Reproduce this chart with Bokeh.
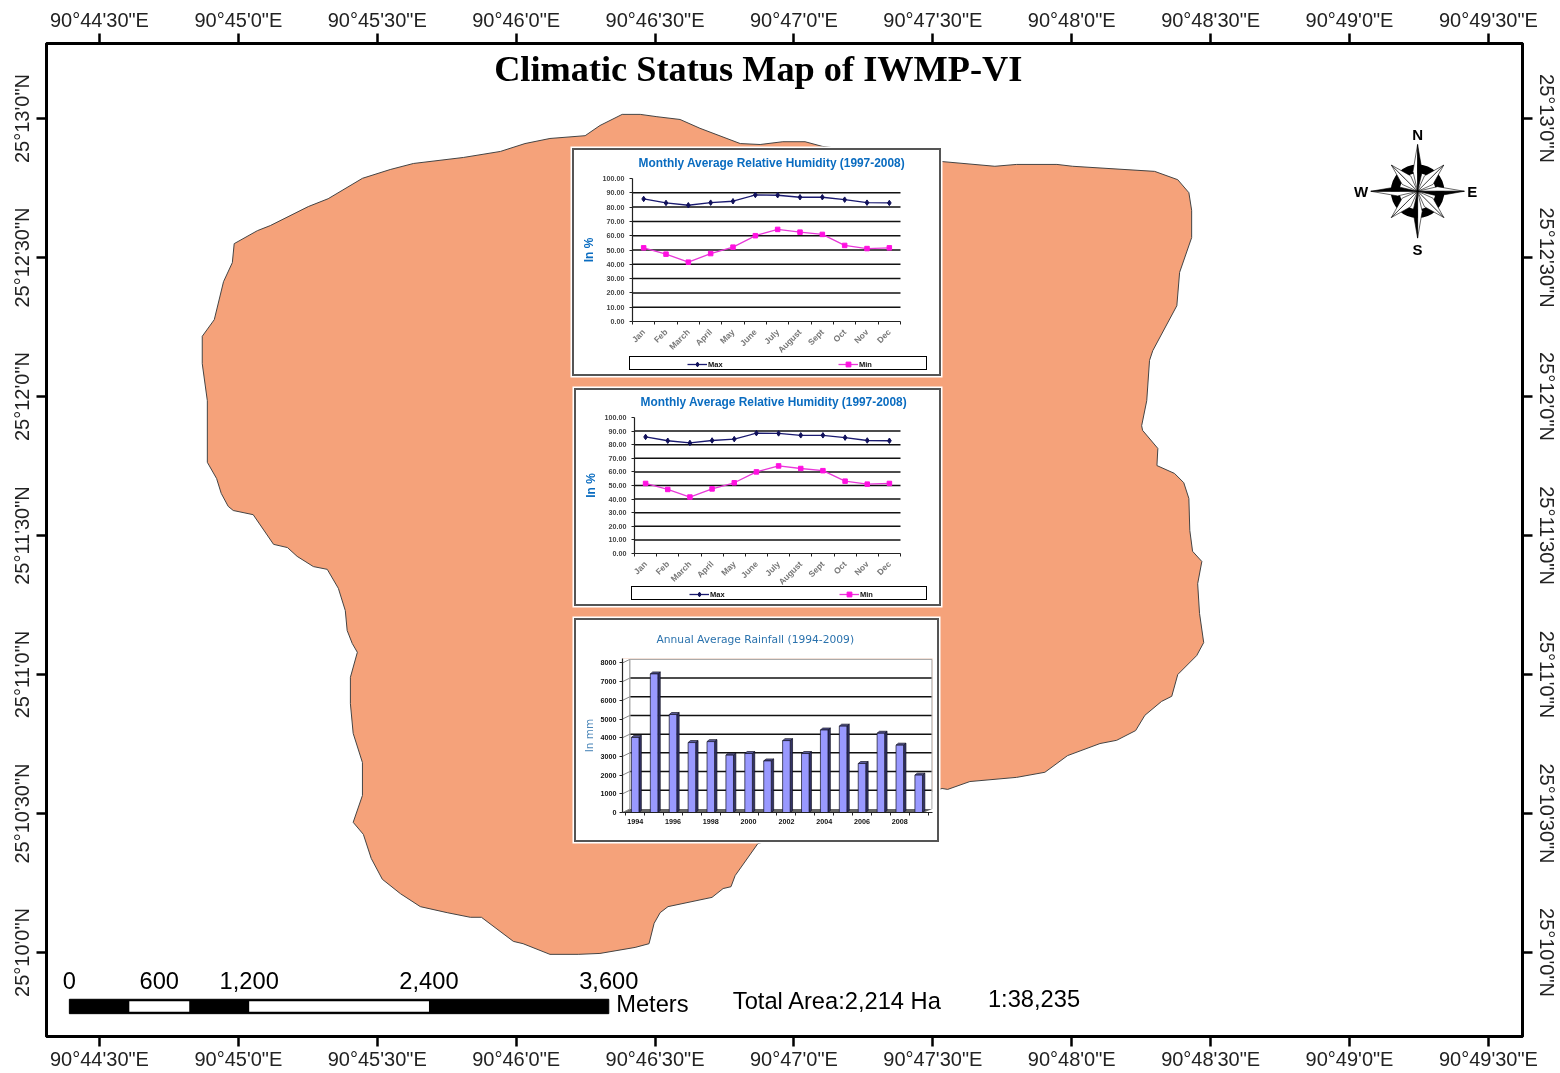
from math import pi, cos, sin
from bokeh.plotting import figure
from bokeh.models import (Range1d, LinearAxis, FixedTicker, Legend, LegendItem, Div, Label,
                          NumeralTickFormatter, Column, Title)
from bokeh.core.properties import value
from bokeh.embed import file_html
from bokeh.resources import INLINE

# ---- map data: arc seconds east of 90 deg 44' 0" and north of 25 deg 10' 0"
boundary_lon = [142.9,138.1,134.9,127.3,121.9,116.6,108.6,97.8,92.8,86.8,79.4,75.1,66.9,64.1,59.1,58.7,56.8,54.8,52.2,52.2,
                53.3,53.3,55.3,56.3,57.8,58.9,63.2,67.6,70.6,72.7,76.2,79.2,81.6,83.1,83.5,84.6,85.7,84.2,84.2,84.8,
                86.8,86.8,84.8,87.0,88.7,91.1,95.0,99.3,105.1,110.1,112.5,119.4,121.5,127.3,133.4,138.1,145.7,148.7,149.8,151.1,
                152.8,162.3,164.7,166.4,167.3,172.2,212.0,213.2,218.0,228.1,234.2,239.1,246.1,249.7,253.8,255.8,259.4,261.6,262.9,267.0,
                268.5,267.6,267.2,268.1,266.1,265.5,265.3,264.2,262.2,258.4,258.6,255.3,255.1,256.2,256.8,257.5,262.7,263.3,265.9,265.9,
                265.3,262.9,257.9,240.2,236.8,228.1,223.4,212.2,186.1,182.4,177.6,172.7,168.4,159.7,155.4,150.4,146.8]
boundary_lat = [180.9,178.5,176.3,175.7,174.6,172.9,171.6,170.3,169.0,167.1,162.7,161.0,156.9,155.8,153.0,148.9,144.8,136.6,133.0,127.1,
                119.1,105.8,102.3,99.1,96.3,95.4,94.5,88.1,87.4,85.5,83.3,82.7,78.6,73.8,69.5,66.7,64.8,59.4,53.7,47.3,
                41.0,33.9,28.1,25.5,20.3,15.8,12.7,9.9,8.6,7.6,7.6,2.4,1.9,-0.4,-0.4,-0.2,1.1,1.9,6.3,8.6,
                9.9,11.9,13.8,14.2,16.6,23.5,35.4,35.2,36.9,37.8,38.9,42.5,45.1,45.8,47.9,51.2,54.2,55.3,60.0,64.1,
                66.9,73.2,79.6,84.4,86.6,91.1,98.0,101.4,103.4,105.1,108.8,112.7,113.7,119.1,127.8,129.9,139.6,146.8,154.3,160.2,
                164.0,166.8,168.6,169.7,170.1,170.1,169.7,170.7,174.0,175.0,175.0,174.4,174.6,177.9,179.8,180.4,180.9]

lon_ticks = [30, 60, 90, 120, 150, 180, 210, 240, 270, 300, 330]
lon_labels = ["90°44'30\"E", "90°45'0\"E", "90°45'30\"E", "90°46'0\"E", "90°46'30\"E", "90°47'0\"E",
              "90°47'30\"E", "90°48'0\"E", "90°48'30\"E", "90°49'0\"E", "90°49'30\"E"]
lat_ticks = [0, 30, 60, 90, 120, 150, 180]
lat_labels = ["25°10'0\"N", "25°10'30\"N", "25°11'0\"N", "25°11'30\"N", "25°12'0\"N", "25°12'30\"N", "25°13'0\"N"]

scale_breaks_m = [0, 400, 800, 1200, 2400, 3600]
scale_label_m = [0, 600, 1200, 2400, 3600]
scale_label_txt = ["0", "600", "1,200", "2,400", "3,600"]

# ---- inset data
months = ["Jan", "Feb", "March", "April", "May", "June", "July", "August", "Sept", "Oct", "Nov", "Dec"]
rh_max = [85.7, 82.9, 81.3, 83.1, 84.1, 88.5, 88.3, 86.9, 86.9, 85.2, 83.1, 82.9]
rh_min = [51.5, 47.1, 41.5, 47.5, 52.0, 60.0, 64.4, 62.5, 60.9, 53.2, 51.0, 51.5]
years = list(range(1994, 2010))
rainfall = [4017, 7414, 5241, 3741, 3793, 3069, 3155, 2759, 3845, 3155, 4414, 4620, 2620, 4241, 3603, 2000]

SANS = "Liberation Sans"
BLUE = "#0a6cc0"
MAP_FILL = "#F5A27A"

# ---- main map
p = figure(width=1552, height=1073, x_range=Range1d(18.56, 337.36), y_range=Range1d(-18.13, 196.2),
           output_backend="svg", toolbar_location=None, x_axis_location=None, y_axis_location=None,
           frame_align=False,
           min_border_left=38, min_border_right=37, min_border_top=35, min_border_bottom=42,
           background_fill_color="white", border_fill_color="white",
           styles={"position": "fixed", "left": "8px", "top": "5px"})
p.grid.visible = False
p.outline_line_color = "black"
p.outline_line_width = 3

for side in ("above", "below", "left", "right"):
    horizontal = side in ("above", "below")
    ax = LinearAxis(ticker=FixedTicker(ticks=lon_ticks if horizontal else lat_ticks),
                    major_label_overrides=dict(zip(lon_ticks, lon_labels)) if horizontal else dict(zip(lat_ticks, lat_labels)))
    ax.major_label_text_font = SANS
    ax.major_label_text_font_size = "20px"
    ax.major_label_text_color = "#222222"
    ax.major_tick_out = 10
    ax.major_tick_in = 0
    ax.major_tick_line_width = 2.5
    ax.major_tick_line_color = "black"
    ax.minor_tick_out = 0
    ax.minor_tick_in = 0
    ax.axis_line_width = 3
    ax.major_label_standoff = 1 if side == "below" else 3
    if not horizontal:
        ax.major_label_orientation = "vertical"
    p.add_layout(ax, side)

p.patch(boundary_lon, boundary_lat, fill_color=MAP_FILL, line_color="#444444", line_width=1)

p.text([172.3], [190.8], text=["Climatic Status Map of IWMP-VI"], text_font=value("Liberation Serif"),
       text_font_style="bold", text_font_size="36.3px", text_align="center", text_baseline="middle", text_color="black")

# scale bar
M_PER_SEC = 30.9
bar_lon0 = 23.5
lon_of = lambda m: bar_lon0 + m / M_PER_SEC
p.quad(left=[lon_of(0)], right=[lon_of(scale_breaks_m[-1])], top=[-10.1], bottom=[-13.2], fill_color="black", line_color="black")
p.quad(left=[lon_of(scale_breaks_m[1]), lon_of(scale_breaks_m[3])], right=[lon_of(scale_breaks_m[2]), lon_of(scale_breaks_m[4])],
       top=[-10.5, -10.5], bottom=[-12.8, -12.8], fill_color="white", line_color=None)
p.text([lon_of(m) for m in scale_label_m], [-6.0] * 5, text=scale_label_txt, text_font=value(SANS), text_font_size="23.7px",
       text_align="center", text_baseline="middle", text_color="black")
p.text([141.6, 166.8, 221.9], [-11.2, -10.4, -10.1], text=["Meters", "Total Area:2,214 Ha", "1:38,235"], text_font=value(SANS),
       text_font_size="23.7px", text_align="left", text_baseline="middle", text_color="black")

# north arrow
rose_x, rose_y = 314.7, 164.3
p.annulus([rose_x], [rose_y], inner_radius=3.9, outer_radius=5.8, fill_color="black", line_color=None)
def kite(angle, tip, side_r, half_w, sign):
    ca, sa = cos(angle), sin(angle)
    sx = side_r * ca - sign * half_w * sa
    sy = side_r * sa + sign * half_w * ca
    return [rose_x, rose_x + sx, rose_x + tip * ca], [rose_y, rose_y + sy, rose_y + tip * sa]
shapes = []
for k in [1, 3, 5, 7, 0, 2, 4, 6]:
    ang = k * pi / 4
    if k % 2 == 0:
        shapes.append((kite(ang, 10.1, 4.3, 1.0, 1), "white"))
        shapes.append((kite(ang, 10.1, 4.3, 1.0, -1), "black"))
    else:
        shapes.append((kite(ang, 8.0, 3.4, 1.3, 1), "white"))
        shapes.append((kite(ang, 8.0, 3.4, 1.3, -1), "white"))
p.patches([s[0][0] for s in shapes], [s[0][1] for s in shapes], fill_color=[s[1] for s in shapes],
          line_color="black", line_width=0.6)
p.text([rose_x, rose_x, rose_x + 11.8, rose_x - 12.2], [rose_y + 12.2, rose_y - 12.5, rose_y, rose_y],
       text=["N", "S", "E", "W"], text_font=value(SANS), text_font_style="bold", text_font_size="15px",
       text_align="center", text_baseline="middle", text_color="black")


def box_styles(left, top):
    return {"position": "absolute", "left": f"{left}px", "top": f"{top}px", "filter": "blur(0.3px)"}


def box_border(left, top, w, h):
    return Div(text="", width=w, height=h, margin=0,
               styles={"position": "absolute", "left": f"{left}px", "top": f"{top}px", "box-sizing": "border-box",
                       "border": "2px solid #555555", "box-shadow": "0 0 0 1.5px white", "background": "transparent"})


def humidity(left, top, w, h, fr_l, fr_r, fr_t, fr_b, leg_l, leg_r, leg_t, leg_b, item1, item2, title_l, title_y):
    """All numbers are page pixels of the panel's outer box, axes box and legend box.
    The figure's frame is the whole panel so that the legend box fits in it; the axes are pinned at 0."""
    ppx = (fr_r - fr_l) / 12
    ppv = (fr_b - fr_t) / 100
    pad_l, pad_b = 75, 50
    q = figure(width=w + pad_l, height=h + pad_b,
               x_range=Range1d((left - fr_l) / ppx, (left + w - fr_l) / ppx),
               y_range=Range1d((fr_b - top - h) / ppv, (fr_b - top) / ppv),
               output_backend="svg", toolbar_location=None, frame_align=False,
               min_border_left=pad_l, min_border_right=0, min_border_top=0, min_border_bottom=pad_b,
               background_fill_color="white", border_fill_alpha=0, outline_line_color=None,
               styles=box_styles(left - pad_l, top))
    q.add_layout(Label(x=(title_l - fr_l) / ppx, y=(fr_b - title_y) / ppv,
                       text="Monthly Average Relative Humidity (1997-2008)", text_color=BLUE, text_font=SANS,
                       text_font_style="bold", text_font_size="11.9px", text_align="left", text_baseline="middle"))
    q.grid.visible = False
    grid_levels = list(range(10, 100, 10))
    q.segment([0] * 9, grid_levels, [12] * 9, grid_levels, line_color="#111111", line_width=1.5)
    centers = [i + 0.5 for i in range(12)]
    q.xaxis.fixed_location = 0
    q.yaxis.fixed_location = 0
    q.xaxis.bounds = (0, 12)
    q.yaxis.bounds = (0, 100)
    q.xaxis.ticker = FixedTicker(ticks=centers, minor_ticks=list(range(13)))
    q.xaxis.major_label_overrides = dict(zip(centers, months))
    q.xaxis.major_tick_out = 0
    q.xaxis.major_tick_in = 0
    q.xaxis.minor_tick_out = 3
    q.xaxis.minor_tick_in = 0
    q.xaxis.major_label_orientation = pi / 4
    q.xaxis.major_label_text_font = SANS
    q.xaxis.major_label_text_font_size = "8.5px"
    q.xaxis.major_label_text_font_style = "bold"
    q.xaxis.major_label_text_color = "#777777"
    q.xaxis.major_label_standoff = 6
    q.yaxis.ticker = FixedTicker(ticks=list(range(0, 101, 10)))
    q.yaxis.formatter = NumeralTickFormatter(format="0.00")
    q.yaxis.major_tick_out = 3
    q.yaxis.major_tick_in = 0
    q.yaxis.minor_tick_out = 0
    q.yaxis.minor_tick_in = 0
    q.yaxis.major_label_text_font = SANS
    q.yaxis.major_label_text_font_size = "7.2px"
    q.yaxis.major_label_text_font_style = "bold"
    q.yaxis.major_label_standoff = 5
    q.yaxis.axis_label = "In %"
    q.yaxis.axis_label_text_color = BLUE
    q.yaxis.axis_label_text_font = SANS
    q.yaxis.axis_label_text_font_size = "12px"
    q.yaxis.axis_label_text_font_style = "bold"
    q.yaxis.axis_label_standoff = 4
    for ax in (q.xaxis[0], q.yaxis[0]):
        ax.axis_line_color = "#222222"
        ax.axis_line_width = 1.2
        ax.major_tick_line_color = "#222222"
        ax.minor_tick_line_color = "#222222"
    l1 = q.line(centers, rh_max, line_color="#1a1a70", line_width=1.3)
    m1 = q.scatter(centers, rh_max, marker="diamond", size=5.5, fill_color="#10105a", line_color="#10105a")
    l2 = q.line(centers, rh_min, line_color="#e838d8", line_width=1.3)
    m2 = q.scatter(centers, rh_min, marker="square", size=4.5, fill_color="#ff10e0", line_color="#ff10e0")
    blank = q.line([], [], line_alpha=0)
    row_h = leg_b - leg_t - 2
    box = Legend(items=[LegendItem(label=" ", renderers=[blank])], location=(round(leg_l - left), round(top + h - leg_b)),
                 padding=0, margin=0, spacing=0, border_line_color="black", border_line_width=1.5, border_line_alpha=1,
                 background_fill_color="white", glyph_width=1, glyph_height=row_h, label_height=row_h,
                 label_standoff=0, label_width=leg_r - leg_l - 4, label_text_font_size="7px")
    q.add_layout(box, "center")
    leg = Legend(items=[LegendItem(label="Max", renderers=[l1, m1]), LegendItem(label="Min", renderers=[l2, m2])],
                 orientation="horizontal", location=(round(item1 - left), round(top + h - leg_b)),
                 padding=0, margin=0, spacing=0, border_line_color=None, background_fill_alpha=0,
                 glyph_width=20, glyph_height=row_h, label_height=row_h, label_standoff=1,
                 label_width=round(item2 - item1 - 21), label_text_font=SANS,
                 label_text_font_size="7.5px", label_text_font_style="bold", label_text_color="#111111")
    q.add_layout(leg, "center")
    return q


i1 = humidity(572, 148, 369, 228, 632, 900, 178, 321, 629, 928, 356, 370, 687, 838, 638, 162)
i2 = humidity(574, 388, 367, 218, 634, 900, 417, 553, 631, 928, 586, 600, 689, 839, 640, 401.7)

# ---- rainfall panel
BAND_PX = 18.9
R_PPV = 19.3 / 1000
r_l, r_t, r_w, r_h = 574, 618, 365, 224
fr_left, fr_right, fr_top, fr_bottom = 622, 932, 653, 812
year_lo = 1994 - (634.7 - fr_left) / BAND_PX
year_hi = 1994 + (fr_right - 634.7) / BAND_PX
val_hi = (fr_bottom - fr_top) / R_PPV
r = figure(width=r_w, height=r_h, x_range=Range1d(year_lo, year_hi), y_range=Range1d(0, val_hi),
           output_backend="svg", toolbar_location=None, frame_align=False,
           min_border_left=fr_left - r_l, min_border_right=r_l + r_w - fr_right,
           min_border_top=fr_top - r_t, min_border_bottom=r_t + r_h - fr_bottom,
           background_fill_color="white", border_fill_color="white", outline_line_color=None,
           styles=box_styles(r_l, r_t))
r.title = Title(text="Annual Average Rainfall (1994-2009)", text_color="#2a72ad", text_font="DejaVu Sans",
                text_font_size="10.7px", text_font_style="normal", text_line_height=0.6, align="left", offset=34, standoff=25)
r.grid.visible = False
wall_l, wall_r = 1993.714, 2009.71
depth_v = 190
front_r = 2009.27
levels = list(range(1000, 8001, 1000))
r.patch([year_lo, front_r, wall_r, wall_l], [0, 0, depth_v, depth_v], fill_color="#666666", line_color=None)
r.segment([wall_l] * 7, [v + depth_v for v in levels[:-1]], [wall_r] * 7, [v + depth_v for v in levels[:-1]],
          line_color="#111111", line_width=1.5)
r.segment([wall_l, wall_l, wall_r], [depth_v, 8000 + depth_v, depth_v], [wall_l, wall_r, wall_r],
          [8000 + depth_v, 8000 + depth_v, 8000 + depth_v], line_color="#aaaaaa", line_width=1.4)
r.segment([year_lo] * 9, [0] + levels, [wall_l] * 9, [depth_v] + [v + depth_v for v in levels], line_color="#888888", line_width=1)
bar_w = 0.40
dep_x, dep_v = 0.125, 105
side_x = [[y + bar_w / 2, y + bar_w / 2 + dep_x, y + bar_w / 2 + dep_x, y + bar_w / 2] for y in years]
side_y = [[0, dep_v, v + dep_v, v] for v in rainfall]
top_x = [[y - bar_w / 2, y - bar_w / 2 + dep_x, y + bar_w / 2 + dep_x, y + bar_w / 2] for y in years]
top_y = [[v, v + dep_v, v + dep_v, v] for v in rainfall]
r.patches(side_x, side_y, fill_color="#333366", line_color="#111122", line_width=0.7)
r.patches(top_x, top_y, fill_color="#5c5c99", line_color="#111122", line_width=0.7)
r.vbar(x=years, top=rainfall, width=bar_w, bottom=0, fill_color="#9999ff", line_color="#111122", line_width=0.7)
r.xaxis.ticker = FixedTicker(ticks=years[::2], minor_ticks=[y - 0.5 for y in years] + [2009.5])
r.yaxis.ticker = FixedTicker(ticks=[0] + levels)
r.yaxis.axis_label = "In mm"
r.yaxis.axis_label_text_color = "#4a86b8"
r.yaxis.axis_label_text_font = "DejaVu Sans"
r.yaxis.axis_label_text_font_size = "10.5px"
r.yaxis.axis_label_text_font_style = "normal"
r.yaxis.axis_label_standoff = 3
for ax in (r.xaxis[0], r.yaxis[0]):
    ax.axis_line_color = "#222222"
    ax.axis_line_width = 1.2
    ax.major_tick_line_color = "#222222"
    ax.minor_tick_line_color = "#222222"
    ax.major_label_text_font = SANS
    ax.major_label_text_font_size = "7.2px"
    ax.major_label_text_font_style = "bold"
    ax.major_label_text_color = "#111111"
    ax.major_label_standoff = 3
    ax.major_tick_in = 0
    ax.minor_tick_in = 0
r.xaxis.major_tick_out = 0
r.xaxis.minor_tick_out = 3
r.yaxis.major_tick_out = 3
r.yaxis.minor_tick_out = 0

root = Column(children=[p, i1, box_border(572, 148, 369, 228), i2, box_border(574, 388, 367, 218),
                        r, box_border(574, 618, 365, 224)], width=1500, height=1000)
open("out.html", "w").write(file_html(root, INLINE))
